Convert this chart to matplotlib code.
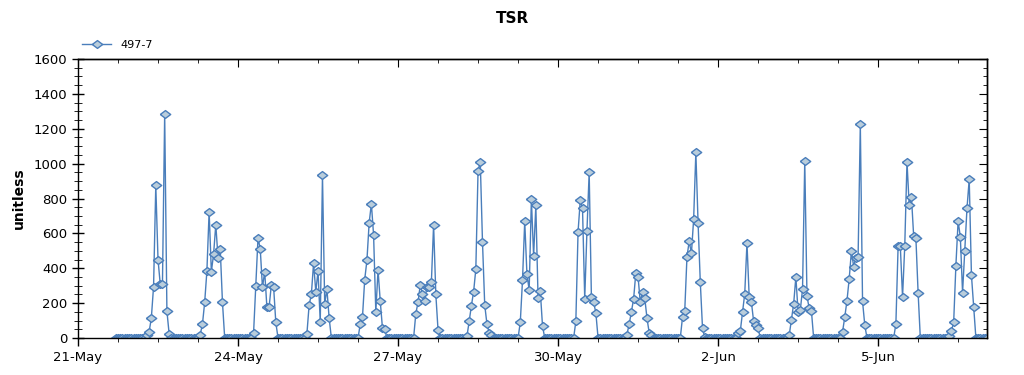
import pandas as pd
import numpy as np
import matplotlib
matplotlib.use('Agg')
import matplotlib.pyplot as plt
import matplotlib.dates as mdates
from matplotlib.ticker import FuncFormatter, FixedLocator, MultipleLocator, NullFormatter

# ============================
# 1. Data (hourly readings, zero at night)
# ============================
series_name = '497-7'
first_time = '2023-05-21 17:00'
last_time = '2023-06-07 01:00'

# daily bursts: day, hour of first non-zero reading, hourly values
burst_days = ['2023-05-22', '2023-05-23', '2023-05-24', '2023-05-25',
              '2023-05-26', '2023-05-27', '2023-05-28', '2023-05-29',
              '2023-05-30', '2023-05-31', '2023-06-01', '2023-06-02',
              '2023-06-03', '2023-06-04', '2023-06-05', '2023-06-06']
burst_start_hours = [7, 7, 7, 7, 7, 8, 7, 7, 8, 7, 8, 9, 8, 8, 8, 8]
burst_values = [
    [20, 35, 115, 295, 875, 450, 310, 310, 1285, 155, 25],
    [20, 80, 205, 385, 725, 380, 480, 650, 460, 510, 205],
    [30, 300, 575, 510, 290, 380, 175, 180, 305, 295, 90],
    [25, 190, 250, 430, 265, 385, 90, 935, 195, 280, 115],
    [80, 120, 335, 445, 660, 770, 590, 150, 390, 210, 55, 50],
    [140, 205, 305, 255, 210, 295, 290, 320, 650, 250, 45],
    [10, 95, 185, 265, 395, 960, 1010, 550, 190, 80, 30, 20],
    [90, 330, 670, 365, 275, 795, 470, 760, 230, 270, 70],
    [95, 610, 790, 745, 225, 615, 950, 235, 205, 145],
    [20, 80, 150, 225, 375, 350, 205, 265, 230, 115, 30, 15],
    [120, 155, 465, 555, 485, 680, 1065, 660, 320, 55, 5],
    [30, 40, 150, 255, 545, 235, 205, 95, 75, 55],
    [15, 105, 195, 350, 150, 160, 280, 1015, 240, 170, 155],
    [35, 120, 215, 340, 500, 410, 460, 465, 1225, 210, 75],
    [80, 525, 525, 235, 530, 1010, 760, 810, 585, 575, 260],
    [10, 40, 90, 415, 670, 580, 260, 500, 745, 910, 360, 180],
]

times = pd.date_range(first_time, last_time, freq='h')
data = pd.Series(0.0, index=times)
for day, hour, vals in zip(burst_days, burst_start_hours, burst_values):
    t0 = pd.Timestamp(day) + pd.Timedelta(hours=hour)
    idx = pd.date_range(t0, periods=len(vals), freq='h')
    data.loc[idx] = vals

# ============================
# 2. Plot
# ============================
fig = plt.figure(figsize=(10.24, 3.75), dpi=100)
ax = fig.add_axes([78 / 1024, 37 / 375, 909 / 1024, 279 / 375])

line_color = '#4a7ebb'
# slightly flattened diamond, like the original chart's markers
flat_diamond = [(-1, 0), (0, 0.75), (1, 0), (0, -0.75), (-1, 0)]
ax.plot(data.index, data.values, color=line_color, linewidth=1.0,
        marker=flat_diamond, markersize=7.5, markerfacecolor='#b9cddb',
        markeredgecolor=line_color, markeredgewidth=1.0, label=series_name)

# axes limits and ticks
ax.set_xlim(pd.Timestamp('2023-05-21'), pd.Timestamp(last_time))
ax.set_ylim(0, 1600)
ax.yaxis.set_major_locator(MultipleLocator(200))
ax.yaxis.set_minor_locator(MultipleLocator(50))

major_dates = pd.date_range('2023-05-21', '2023-06-07', freq='3D')
minor_dates = pd.date_range('2023-05-21', '2023-06-07', freq='18h')
major_locs = mdates.date2num(major_dates)
minor_locs = mdates.date2num(minor_dates)
ax.xaxis.set_major_locator(FixedLocator(major_locs))
ax.xaxis.set_minor_locator(FixedLocator(minor_locs))
ax.xaxis.set_major_formatter(FuncFormatter(
    lambda x, pos: '%d-%s' % (mdates.num2date(x).day, mdates.num2date(x).strftime('%b'))))

ax.tick_params(axis='both', which='major', labelsize=9.5, width=1, color='black')
ax.tick_params(axis='y', which='major', direction='inout', length=8)
ax.tick_params(axis='y', which='minor', direction='inout', length=6)
ax.tick_params(axis='x', which='major', direction='out', length=6)
ax.tick_params(axis='x', which='minor', direction='out', length=3)

# mirrored ticks pointing inward on the top and right edges
top = ax.secondary_xaxis('top')
top.xaxis.set_major_locator(FixedLocator(major_locs))
top.xaxis.set_minor_locator(FixedLocator(minor_locs))
top.xaxis.set_major_formatter(NullFormatter())
top.tick_params(which='major', direction='in', length=6)
top.tick_params(which='minor', direction='in', length=3)

right = ax.secondary_yaxis('right')
right.yaxis.set_major_locator(MultipleLocator(200))
right.yaxis.set_minor_locator(MultipleLocator(50))
right.yaxis.set_major_formatter(NullFormatter())
right.tick_params(which='major', direction='in', length=6)
right.tick_params(which='minor', direction='in', length=3)

for a in (ax, top, right):
    for sp in a.spines.values():
        sp.set_color('black')
        sp.set_linewidth(1.0)

ax.set_ylabel('unitless', fontsize=10, fontweight='bold', labelpad=6)
fig.suptitle('TSR', fontsize=11, fontweight='bold', y=0.97)

ax.legend(loc='lower left', bbox_to_anchor=(0.0, 1.015), frameon=False,
          fontsize=8, handlelength=2.6, borderaxespad=0.2, borderpad=0.2)

plt.savefig('out.png', dpi=100)
